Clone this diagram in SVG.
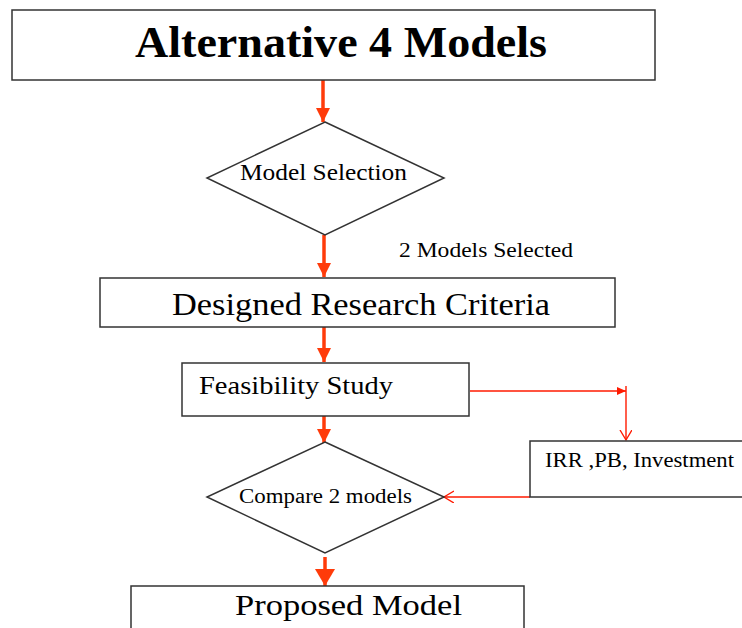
<svg xmlns="http://www.w3.org/2000/svg" width="742" height="628" viewBox="0 0 742 628">
<style>
.box{fill:#fff;stroke:#333;stroke-width:1.5}
.t{font-family:"Liberation Serif","Times New Roman",serif;fill:#000}
.thick{stroke:#FF3B0A;stroke-width:3.5;fill:none}
.thin{stroke:#FF1A00;stroke-width:1.4;fill:none}
</style>
<defs>
<marker id="ah" markerUnits="userSpaceOnUse" markerWidth="14" markerHeight="16" refX="14" refY="7" orient="auto">
<path d="M0,0 L14,7 L0,14 Z" fill="#FF3B0A"/>
</marker>
<marker id="ahBig" markerUnits="userSpaceOnUse" markerWidth="18" markerHeight="22" refX="17" refY="10" orient="auto">
<path d="M0,0 L17,10 L0,20 Z" fill="#FF3B0A"/>
</marker>
<marker id="ahSmall" markerUnits="userSpaceOnUse" markerWidth="10" markerHeight="10" refX="9" refY="4" orient="auto">
<path d="M0,0 L9,4 L0,8 Z" fill="#FF1A00"/>
</marker>
<marker id="ahOpen" markerUnits="userSpaceOnUse" markerWidth="12" markerHeight="14" refX="10" refY="6" orient="auto">
<path d="M0,0 L10,6 L0,12" fill="none" stroke="#FF1A00" stroke-width="1.4"/>
</marker>
</defs>

<g id="connectors">
<line class="thick" x1="323" y1="80" x2="323" y2="122" marker-end="url(#ah)"/>
<line class="thick" x1="324" y1="235" x2="324" y2="277" marker-end="url(#ah)"/>
<line class="thick" x1="324" y1="327" x2="324" y2="362" marker-end="url(#ah)"/>
<line class="thick" x1="324" y1="416" x2="324" y2="443" marker-end="url(#ah)"/>
<line class="thick" x1="325" y1="557" x2="325" y2="586" stroke-width="4" marker-end="url(#ahBig)"/>
<line class="thin" x1="470" y1="391" x2="626" y2="391" marker-end="url(#ahSmall)"/>
<line class="thin" x1="626" y1="386" x2="626" y2="440" marker-end="url(#ahOpen)"/>
<line class="thin" x1="530" y1="497" x2="444" y2="497" marker-end="url(#ahOpen)"/>
</g>

<g id="alternative">
<rect class="box" x="12" y="10" width="643" height="70"/>
<text class="t" x="341" y="57" font-size="44" font-weight="bold" text-anchor="middle" textLength="412" lengthAdjust="spacingAndGlyphs">Alternative 4 Models</text>
</g>

<g id="model-selection">
<polygon class="box" points="325,122 444,178 325,235 207,178"/>
<text class="t" x="323.5" y="180" font-size="23" text-anchor="middle" textLength="167" lengthAdjust="spacingAndGlyphs">Model Selection</text>
</g>

<g id="label-selected">
<text class="t" x="399" y="257" font-size="20" textLength="174" lengthAdjust="spacingAndGlyphs">2  Models Selected</text>
</g>

<g id="criteria">
<rect class="box" x="100" y="278" width="515" height="49"/>
<text class="t" x="172" y="315" font-size="32" textLength="378" lengthAdjust="spacingAndGlyphs">Designed Research Criteria</text>
</g>

<g id="feasibility">
<rect class="box" x="182" y="363" width="287" height="53"/>
<text class="t" x="199" y="394" font-size="26" textLength="194" lengthAdjust="spacingAndGlyphs">Feasibility Study</text>
</g>

<g id="irr">
<rect class="box" x="530" y="441" width="215" height="56"/>
<text class="t" x="545" y="467" font-size="20" textLength="189" lengthAdjust="spacingAndGlyphs">IRR ,PB, Investment</text>
</g>

<g id="compare">
<polygon class="box" points="325,442 444,497 325,553 207,497"/>
<text class="t" x="239" y="503" font-size="20" textLength="173" lengthAdjust="spacingAndGlyphs">Compare 2 models</text>
</g>

<g id="proposed">
<rect class="box" x="131" y="586" width="393" height="60"/>
<text class="t" x="235" y="615" font-size="30" textLength="227" lengthAdjust="spacingAndGlyphs">Proposed Model</text>
</g>
</svg>
